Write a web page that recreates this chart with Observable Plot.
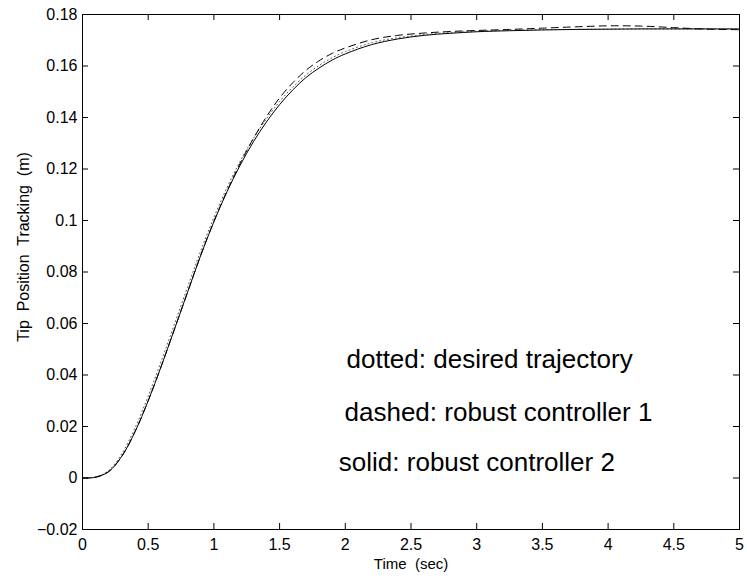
<!DOCTYPE html>
<html>
<head>
<meta charset="utf-8">
<script src="https://cdn.jsdelivr.net/npm/d3@7"></script>
<script src="https://cdn.jsdelivr.net/npm/@observablehq/plot@0.6"></script>
<style>
  html, body { margin: 0; padding: 0; background: #fff; }
  svg text { white-space: pre; }
</style>
</head>
<body>
<div id="chart"></div>
<script>
// Time samples (sec)
const time = [0, 0.1, 0.2, 0.3, 0.4, 0.5, 0.6, 0.7, 0.8, 0.9, 1.0, 1.1, 1.2, 1.3, 1.4, 1.5, 1.6, 1.7, 1.8, 1.9, 2.0, 2.2, 2.4, 2.6, 2.8, 3.0, 3.25, 3.5, 3.75, 4.0, 4.25, 4.5, 4.75, 5.0];
// dotted: desired trajectory
const desired = [0, 0.0004, 0.0030, 0.0095, 0.0195, 0.0318, 0.0455, 0.0598, 0.0742, 0.0882, 0.1012, 0.1128, 0.1230, 0.1318, 0.1395, 0.1462, 0.1518, 0.1565, 0.1602, 0.1632, 0.1656, 0.1690, 0.1710, 0.1722, 0.1730, 0.1735, 0.1739, 0.1741, 0.1742, 0.1743, 0.1744, 0.1744, 0.1744, 0.1744];
// dashed: robust controller 1
const controller1 = [0, 0.0003, 0.0025, 0.0085, 0.0180, 0.0300, 0.0435, 0.0578, 0.0722, 0.0865, 0.0997, 0.1115, 0.1222, 0.1318, 0.1403, 0.1476, 0.1535, 0.1583, 0.1620, 0.1649, 0.1670, 0.1702, 0.1719, 0.1728, 0.1734, 0.1738, 0.1742, 0.1747, 0.1752, 0.1756, 0.1755, 0.1749, 0.1743, 0.1741];
// solid: robust controller 2
const controller2 = [0, 0.0003, 0.0025, 0.0085, 0.0180, 0.0300, 0.0435, 0.0578, 0.0722, 0.0865, 0.0995, 0.1112, 0.1215, 0.1305, 0.1383, 0.1450, 0.1507, 0.1555, 0.1592, 0.1623, 0.1647, 0.1683, 0.1705, 0.1719, 0.1727, 0.1733, 0.1737, 0.1740, 0.1742, 0.1743, 0.1744, 0.1744, 0.1744, 0.1744];

const xTicks = [0, 0.5, 1, 1.5, 2, 2.5, 3, 3.5, 4, 4.5, 5];
const xTickLabels = ["0", "0.5", "1", "1.5", "2", "2.5", "3", "3.5", "4", "4.5", "5"];
const yTicks = [-0.02, 0, 0.02, 0.04, 0.06, 0.08, 0.1, 0.12, 0.14, 0.16, 0.18];
const yTickLabels = ["\u22120.02", "0", "0.02", "0.04", "0.06", "0.08", "0.1", "0.12", "0.14", "0.16", "0.18"];

const annotationText = ["dotted: desired trajectory", "dashed: robust controller 1", "solid: robust controller 2"];
const annotationX = [2.009, 1.994, 1.951];
const annotationY = [0.0428, 0.0221, 0.0029];

const xLabel = "Time\u00a0 (sec)";
const yLabel = "Tip\u00a0 Position\u00a0 Tracking\u00a0 (m)";

const W = 747, H = 578;
const mL = 82, mR = 8, mT = 14, mB = 49;
const innerW = W - mL - mR, innerH = H - mT - mB;
const tickLen = 6;
const font = "'Liberation Sans', Arial, Helvetica, sans-serif";

const chart = Plot.plot({
  width: W,
  height: H,
  marginLeft: mL,
  marginRight: mR,
  marginTop: mT,
  marginBottom: mB,
  style: { fontFamily: font, fontSize: "16px", color: "black", background: "white" },
  x: { domain: [0, 5] },
  y: { domain: [-0.02, 0.18] },
  marks: [
    Plot.axisX(xTicks, { tickSize: 0, tickPadding: 9, tickFormat: (d, i) => xTickLabels[i], label: null, fontSize: 16 }),
    Plot.axisY(yTicks, { tickSize: 0, tickPadding: 5, tickFormat: (d, i) => yTickLabels[i], label: null, fontSize: 16 }),
    Plot.tickX(xTicks, { x: d => d, insetTop: innerH - tickLen, stroke: "black" }),
    Plot.tickX(xTicks, { x: d => d, insetBottom: innerH - tickLen, stroke: "black" }),
    Plot.tickY(yTicks, { y: d => d, insetRight: innerW - tickLen, stroke: "black" }),
    Plot.tickY(yTicks, { y: d => d, insetLeft: innerW - tickLen, stroke: "black" }),
    Plot.line(time, { x: d => d, y: (d, i) => desired[i], stroke: "#555", strokeWidth: 1, strokeDasharray: "1,3", curve: "catmull-rom" }),
    Plot.line(time, { x: d => d, y: (d, i) => controller1[i], stroke: "black", strokeWidth: 1, strokeDasharray: "7,5", curve: "catmull-rom" }),
    Plot.line(time, { x: d => d, y: (d, i) => controller2[i], stroke: "black", strokeWidth: 1, curve: "catmull-rom" }),
    Plot.text(annotationText, { x: (d, i) => annotationX[i], y: (d, i) => annotationY[i], text: d => d, textAnchor: "start", lineAnchor: "bottom", fontSize: 26, fill: "black" }),
    Plot.text([xLabel], { text: d => d, frameAnchor: "bottom", lineAnchor: "bottom", dy: 39, fontSize: 15, fill: "black" }),
    Plot.text([yLabel], { text: d => d, frameAnchor: "left", rotate: -90, textAnchor: "middle", lineAnchor: "bottom", dx: -54, dy: -25, fontSize: 16, fill: "black" }),
    Plot.frame({ stroke: "black", strokeWidth: 1 })
  ]
});
document.getElementById("chart").appendChild(chart);
</script>
</body>
</html>
